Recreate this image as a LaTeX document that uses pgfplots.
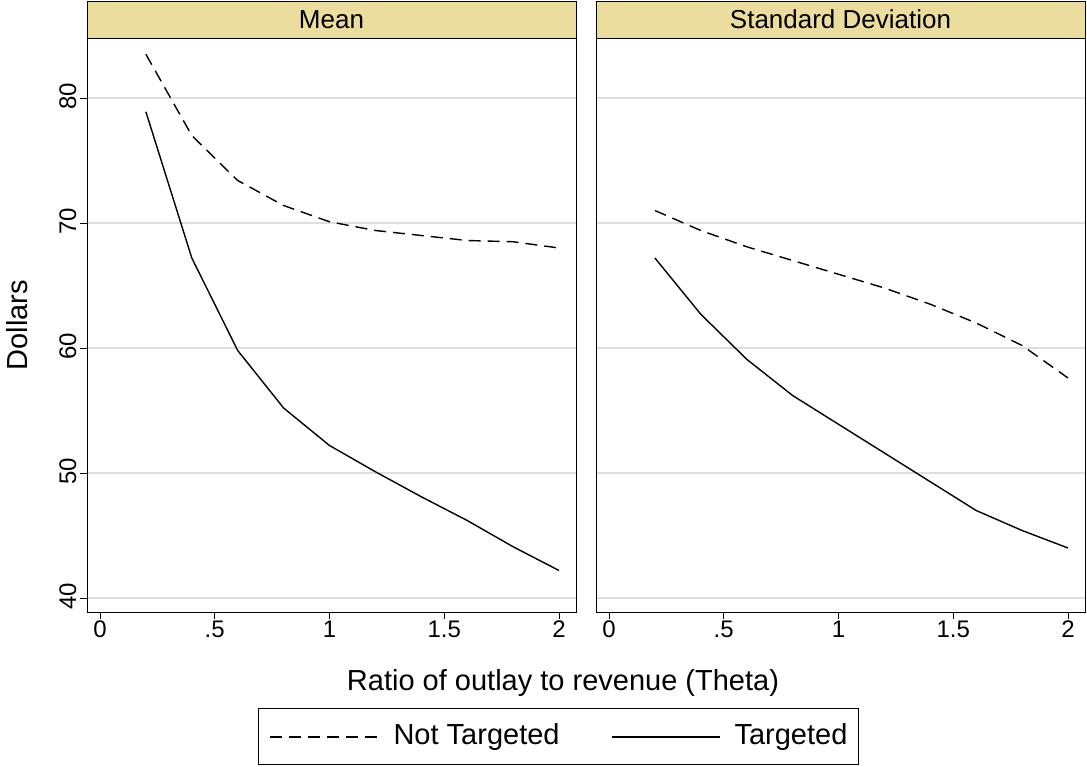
\documentclass[border=0pt]{standalone}
\usepackage{pgfplots}
\pgfplotsset{compat=1.18}
\usepackage{fontspec}
\setmainfont{Liberation Sans}
\definecolor{strip}{RGB}{234,221,158}
\definecolor{gridc}{RGB}{222,222,222}
\pgfplotsset{panel/.style={
  anchor=south west, scale only axis, width=489pt, height=574pt,
  xmin=-0.0566, xmax=2.074, ymin=38.88, ymax=84.8,
  xtick={0,0.5,1,1.5,2}, xticklabels={0,.5,1,1.5,2},
  ytick={40,50,60,70,80},
  ymajorgrids, grid style={gridc, line width=1.6pt},
  tick align=outside, major tick length=7pt,
  tick style={black, line width=0.8pt},
  xtick pos=bottom, ytick pos=left,
  axis line style={line width=0.8pt},
  tick label style={font=\fontsize{24}{28}\selectfont},
  xticklabel style={yshift=2pt},
  /pgf/number format/assume math mode=true,
  clip=true}}
\begin{document}
\begin{tikzpicture}[x=1pt,y=1pt]
\path (0,0) rectangle (1087,-766);
\begin{axis}[panel, at={(87pt,-612pt)},
  yticklabel style={rotate=90, anchor=south, xshift=2pt}]
\addplot[black, line width=1.4pt, dash pattern=on 12pt off 7pt] coordinates {(0.2,83.5)(0.4,77.0)(0.6,73.4)(0.8,71.4)(1.0,70.1)(1.2,69.4)(1.4,69.0)(1.6,68.6)(1.8,68.5)(2.0,68.0)};
\addplot[black, line width=1.4pt] coordinates {(0.2,78.9)(0.4,67.2)(0.6,59.8)(0.8,55.2)(1.0,52.2)(1.2,50.1)(1.4,48.1)(1.6,46.2)(1.8,44.1)(2.0,42.2)};
\end{axis}
\begin{axis}[panel, at={(596pt,-612pt)}, yticklabels={}, ytick style={draw=none}]
\addplot[black, line width=1.4pt, dash pattern=on 12pt off 7pt] coordinates {(0.2,71.0)(0.4,69.4)(0.6,68.1)(0.8,67.0)(1.0,65.9)(1.2,64.8)(1.4,63.5)(1.6,62.0)(1.8,60.2)(2.0,57.6)};
\addplot[black, line width=1.4pt] coordinates {(0.2,67.2)(0.4,62.7)(0.6,59.1)(0.8,56.2)(1.0,53.9)(1.2,51.6)(1.4,49.3)(1.6,47.0)(1.8,45.4)(2.0,44.0)};
\end{axis}
\begin{scope}[font=\fontsize{29}{33}\selectfont]
\draw[fill=strip, line width=0.8pt] (87,-38) rectangle (576,-1);
\node[font=\fontsize{26}{30}\selectfont] at (331.5,-19.5) {Mean};
\draw[fill=strip, line width=0.8pt] (596,-38) rectangle (1085,-1);
\node[font=\fontsize{26}{30}\selectfont] at (840.5,-19.5) {Standard Deviation};
\node at (563,-683) {Ratio of outlay to revenue (Theta)};
\node[rotate=90] at (17,-325) {Dollars};
\draw[line width=0.8pt] (258,-708) rectangle (858,-764);
\draw[line width=1.4pt, dash pattern=on 12pt off 7pt] (270,-737) -- (380,-737);
\node[anchor=west] at (390,-737) {Not Targeted};
\draw[line width=1.4pt] (612,-737) -- (720,-737);
\node[anchor=west] at (731,-737) {Targeted};
\end{scope}
\end{tikzpicture}
\end{document}
